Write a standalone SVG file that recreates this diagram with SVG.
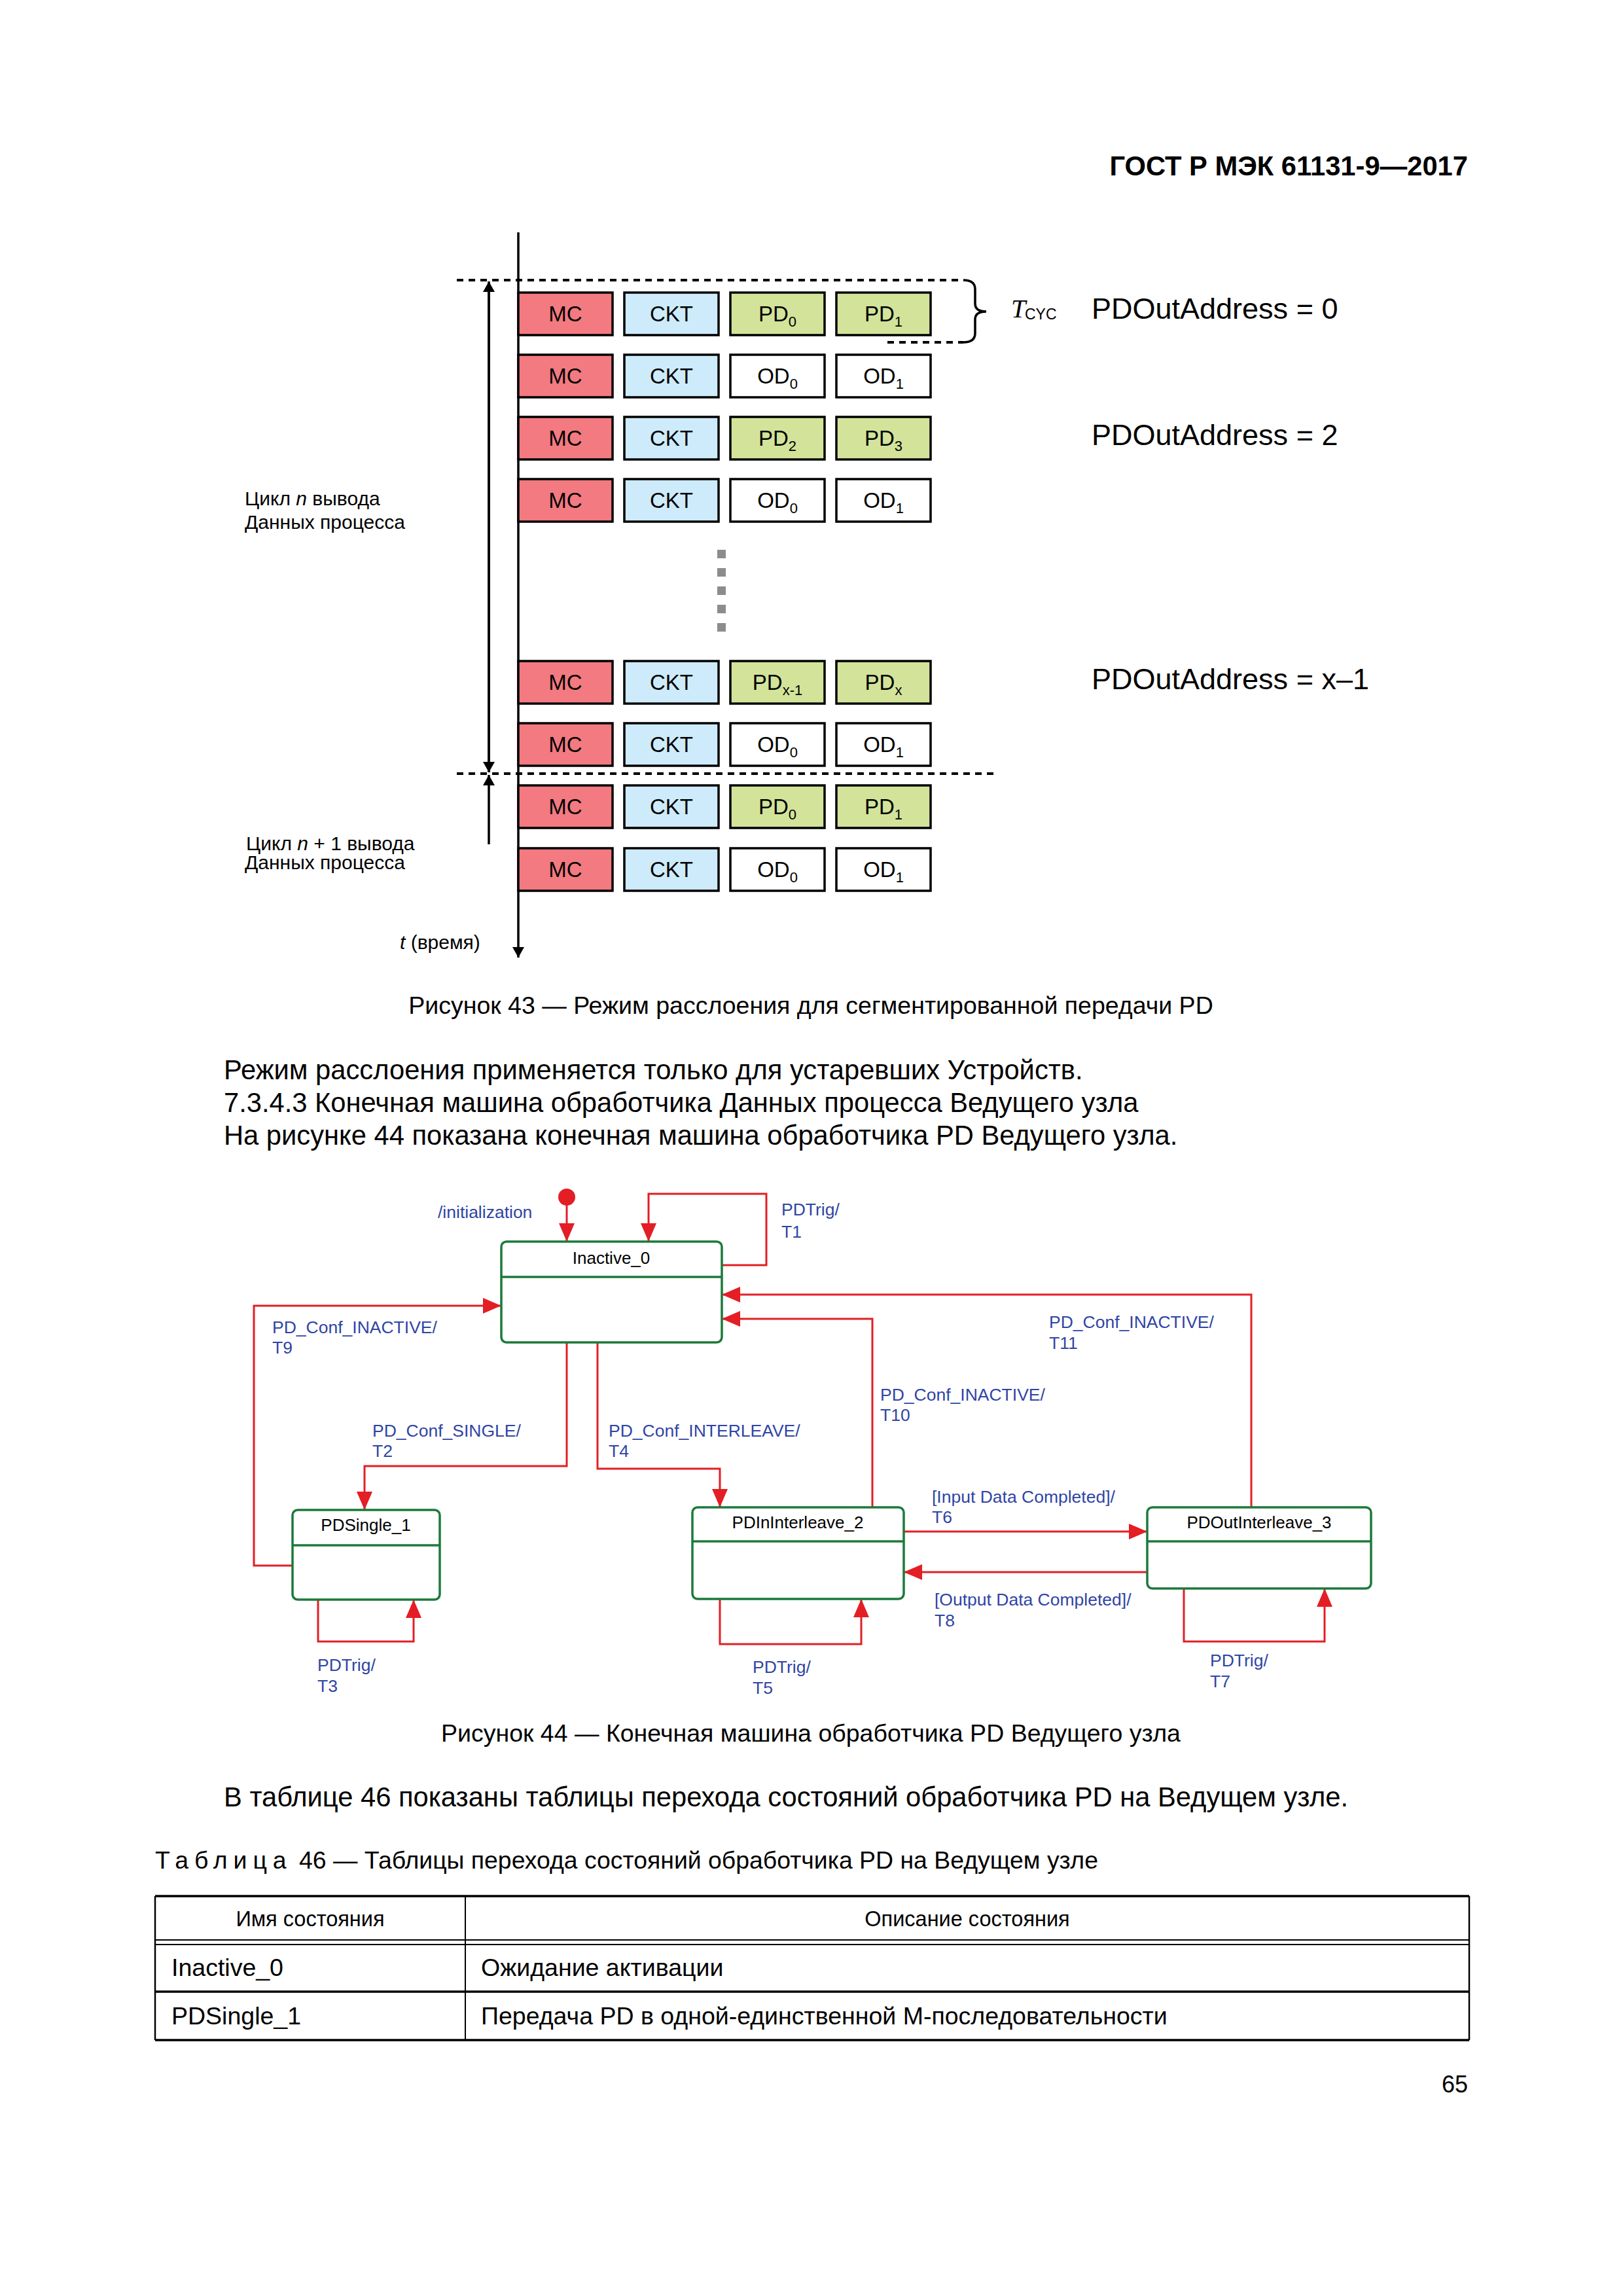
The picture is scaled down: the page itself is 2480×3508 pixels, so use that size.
<svg xmlns="http://www.w3.org/2000/svg" width="2480" height="3508" viewBox="0 0 2480 3508">
<style>
text{font-family:"Liberation Sans",Arial,sans-serif;fill:#000}
.box{stroke:#000;stroke-width:3.5}
.mc{fill:#F27A80}
.ckt{fill:#CDEBFA}
.pd{fill:#D3E39A}
.od{fill:#fff}
.bt{font-size:33px;text-anchor:middle}
.lbl{font-size:30px}
.addr{font-size:45px}
.dash{stroke:#000;stroke-width:4;stroke-dasharray:10 8;fill:none}
.st{fill:#fff;stroke:#1B7A3A;stroke-width:3.5}
.sep{stroke:#1B7A3A;stroke-width:3.5}
.sn{font-size:26px;text-anchor:middle}
.con{fill:none;stroke:#E31E24;stroke-width:3}
.tl{font-size:26.5px;fill:#2F45A5}
.body{font-size:41.7px}
.cap{font-size:37.5px;text-anchor:middle}
.tb{stroke:#000;fill:none}
</style>
<defs>
<marker id="ah" markerUnits="userSpaceOnUse" markerWidth="28" markerHeight="24" refX="28" refY="12" orient="auto">
<path d="M0,0 L28,12 L0,24 z" fill="#E31E24"/>
</marker>
<marker id="bk" markerUnits="userSpaceOnUse" markerWidth="16" markerHeight="18" refX="16" refY="9" orient="auto">
<path d="M0,0 L16,9 L0,18 z" fill="#000"/>
</marker>
</defs>

<text x="2243" y="268" font-size="41.7" font-weight="bold" text-anchor="end">ГОСТ Р МЭК 61131-9—2017</text>

<!-- Figure 43 -->
<g id="timeline">
<line x1="792" y1="355" x2="792" y2="1463" stroke="#000" stroke-width="3.5" marker-end="url(#bk)"/>
<path class="dash" d="M698,428 H1472"/>
<path class="dash" d="M1356,523 H1472"/>
<path d="M1472,428 Q1490,428 1490,442 L1490,464 Q1490,476 1507,476 Q1490,476 1490,488 L1490,509 Q1490,523 1472,523" fill="none" stroke="#000" stroke-width="3.5"/>
<path class="dash" d="M698,1182 H1520"/>
<line x1="747" y1="1180" x2="747" y2="430" stroke="#000" stroke-width="3.5" marker-end="url(#bk)"/>
<line x1="747" y1="432" x2="747" y2="1180" stroke="#000" stroke-width="3.5" marker-end="url(#bk)"/>
<line x1="747" y1="1290" x2="747" y2="1184" stroke="#000" stroke-width="3.5" marker-end="url(#bk)"/>
</g>

<g id="row1">
<rect class="box mc" x="792" y="447" width="144" height="65"/><text class="bt" x="864" y="491">MC</text>
<rect class="box ckt" x="954" y="447" width="144" height="65"/><text class="bt" x="1026" y="491">CKT</text>
<rect class="box pd" x="1116" y="447" width="144" height="65"/><text class="bt" x="1188" y="491">PD<tspan font-size="22" dy="8">0</tspan></text>
<rect class="box pd" x="1278" y="447" width="144" height="65"/><text class="bt" x="1350" y="491">PD<tspan font-size="22" dy="8">1</tspan></text>
</g>
<g id="row2">
<rect class="box mc" x="792" y="542" width="144" height="65"/><text class="bt" x="864" y="586">MC</text>
<rect class="box ckt" x="954" y="542" width="144" height="65"/><text class="bt" x="1026" y="586">CKT</text>
<rect class="box od" x="1116" y="542" width="144" height="65"/><text class="bt" x="1188" y="586">OD<tspan font-size="22" dy="8">0</tspan></text>
<rect class="box od" x="1278" y="542" width="144" height="65"/><text class="bt" x="1350" y="586">OD<tspan font-size="22" dy="8">1</tspan></text>
</g>
<g id="row3">
<rect class="box mc" x="792" y="637" width="144" height="65"/><text class="bt" x="864" y="681">MC</text>
<rect class="box ckt" x="954" y="637" width="144" height="65"/><text class="bt" x="1026" y="681">CKT</text>
<rect class="box pd" x="1116" y="637" width="144" height="65"/><text class="bt" x="1188" y="681">PD<tspan font-size="22" dy="8">2</tspan></text>
<rect class="box pd" x="1278" y="637" width="144" height="65"/><text class="bt" x="1350" y="681">PD<tspan font-size="22" dy="8">3</tspan></text>
</g>
<g id="row4">
<rect class="box mc" x="792" y="732" width="144" height="65"/><text class="bt" x="864" y="776">MC</text>
<rect class="box ckt" x="954" y="732" width="144" height="65"/><text class="bt" x="1026" y="776">CKT</text>
<rect class="box od" x="1116" y="732" width="144" height="65"/><text class="bt" x="1188" y="776">OD<tspan font-size="22" dy="8">0</tspan></text>
<rect class="box od" x="1278" y="732" width="144" height="65"/><text class="bt" x="1350" y="776">OD<tspan font-size="22" dy="8">1</tspan></text>
</g>
<g id="dots" fill="#8C8C8C">
<rect x="1096" y="840" width="13" height="13"/>
<rect x="1096" y="868" width="13" height="13"/>
<rect x="1096" y="896" width="13" height="13"/>
<rect x="1096" y="924" width="13" height="13"/>
<rect x="1096" y="952" width="13" height="13"/>
</g>
<g id="row5">
<rect class="box mc" x="792" y="1010" width="144" height="65"/><text class="bt" x="864" y="1054">MC</text>
<rect class="box ckt" x="954" y="1010" width="144" height="65"/><text class="bt" x="1026" y="1054">CKT</text>
<rect class="box pd" x="1116" y="1010" width="144" height="65"/><text class="bt" x="1188" y="1054">PD<tspan font-size="22" dy="8">x-1</tspan></text>
<rect class="box pd" x="1278" y="1010" width="144" height="65"/><text class="bt" x="1350" y="1054">PD<tspan font-size="22" dy="8">x</tspan></text>
</g>
<g id="row6">
<rect class="box mc" x="792" y="1105" width="144" height="65"/><text class="bt" x="864" y="1149">MC</text>
<rect class="box ckt" x="954" y="1105" width="144" height="65"/><text class="bt" x="1026" y="1149">CKT</text>
<rect class="box od" x="1116" y="1105" width="144" height="65"/><text class="bt" x="1188" y="1149">OD<tspan font-size="22" dy="8">0</tspan></text>
<rect class="box od" x="1278" y="1105" width="144" height="65"/><text class="bt" x="1350" y="1149">OD<tspan font-size="22" dy="8">1</tspan></text>
</g>
<g id="row7">
<rect class="box mc" x="792" y="1200" width="144" height="65"/><text class="bt" x="864" y="1244">MC</text>
<rect class="box ckt" x="954" y="1200" width="144" height="65"/><text class="bt" x="1026" y="1244">CKT</text>
<rect class="box pd" x="1116" y="1200" width="144" height="65"/><text class="bt" x="1188" y="1244">PD<tspan font-size="22" dy="8">0</tspan></text>
<rect class="box pd" x="1278" y="1200" width="144" height="65"/><text class="bt" x="1350" y="1244">PD<tspan font-size="22" dy="8">1</tspan></text>
</g>
<g id="row8">
<rect class="box mc" x="792" y="1296" width="144" height="65"/><text class="bt" x="864" y="1340">MC</text>
<rect class="box ckt" x="954" y="1296" width="144" height="65"/><text class="bt" x="1026" y="1340">CKT</text>
<rect class="box od" x="1116" y="1296" width="144" height="65"/><text class="bt" x="1188" y="1340">OD<tspan font-size="22" dy="8">0</tspan></text>
<rect class="box od" x="1278" y="1296" width="144" height="65"/><text class="bt" x="1350" y="1340">OD<tspan font-size="22" dy="8">1</tspan></text>
</g>

<g id="labels43">
<text x="1545" y="485" font-style="italic" font-size="40" style="font-family:'Liberation Serif',serif">T</text>
<text x="1566" y="488" font-size="23">CYC</text>
<text class="addr" x="1668" y="487">PDOutAddress = 0</text>
<text class="addr" x="1668" y="680">PDOutAddress = 2</text>
<text class="addr" x="1668" y="1053">PDOutAddress = x–1</text>
<text class="lbl" x="374" y="772">Цикл <tspan font-style="italic">n</tspan> вывода</text>
<text class="lbl" x="374" y="808">Данных процесса</text>
<text class="lbl" x="376" y="1299">Цикл <tspan font-style="italic">n</tspan> + 1 вывода</text>
<text class="lbl" x="374" y="1328">Данных процесса</text>
<text class="lbl" x="611" y="1450"><tspan font-style="italic">t</tspan> (время)</text>
</g>

<text class="cap" x="1239" y="1549">Рисунок 43 — Режим расслоения для сегментированной передачи PD</text>

<text class="body" x="342" y="1649">Режим расслоения применяется только для устаревших Устройств.</text>
<text class="body" x="342" y="1699">7.3.4.3 Конечная машина обработчика Данных процесса Ведущего узла</text>
<text class="body" x="342" y="1749">На рисунке 44 показана конечная машина обработчика PD Ведущего узла.</text>

<!-- Figure 44 -->
<g id="connectors">
<circle cx="866" cy="1829" r="13" fill="#E31E24"/>
<path class="con" d="M866,1840 V1897" marker-end="url(#ah)"/>
<path class="con" d="M1103,1933 H1171 V1824 H991 V1897" marker-end="url(#ah)"/>
<path class="con" d="M447,2392 H388 V1995 H766" marker-end="url(#ah)"/>
<path class="con" d="M866,2051 V2240 H557 V2307" marker-end="url(#ah)"/>
<path class="con" d="M913,2051 V2244 H1100 V2303" marker-end="url(#ah)"/>
<path class="con" d="M1333,2303 V2015 H1103" marker-end="url(#ah)"/>
<path class="con" d="M1912,2303 V1978 H1103" marker-end="url(#ah)"/>
<path class="con" d="M1381,2340 H1753" marker-end="url(#ah)"/>
<path class="con" d="M1753,2402 H1381" marker-end="url(#ah)"/>
<path class="con" d="M486,2444 V2508 H632 V2444" marker-end="url(#ah)"/>
<path class="con" d="M1100,2443 V2512 H1316 V2443" marker-end="url(#ah)"/>
<path class="con" d="M1809,2427 V2508 H2024 V2427" marker-end="url(#ah)"/>
</g>
<g id="Inactive_0">
<rect class="st" x="766" y="1897" width="337" height="154" rx="8"/>
<line class="sep" x1="766" y1="1951" x2="1103" y2="1951"/>
<text class="sn" x="934" y="1931">Inactive_0</text>
</g>
<g id="PDSingle_1">
<rect class="st" x="447" y="2307" width="225" height="137" rx="8"/>
<line class="sep" x1="447" y1="2361" x2="672" y2="2361"/>
<text class="sn" x="559" y="2339">PDSingle_1</text>
</g>
<g id="PDInInterleave_2">
<rect class="st" x="1058" y="2303" width="323" height="140" rx="8"/>
<line class="sep" x1="1058" y1="2355" x2="1381" y2="2355"/>
<text class="sn" x="1219" y="2335">PDInInterleave_2</text>
</g>
<g id="PDOutInterleave_3">
<rect class="st" x="1753" y="2303" width="342" height="124" rx="8"/>
<line class="sep" x1="1753" y1="2355" x2="2095" y2="2355"/>
<text class="sn" x="1924" y="2335">PDOutInterleave_3</text>
</g>
<g id="transition-labels">
<text class="tl" x="669" y="1861">/initialization</text>
<text class="tl" x="1194" y="1857">PDTrig/</text><text class="tl" x="1194" y="1891">T1</text>
<text class="tl" x="416" y="2037">PD_Conf_INACTIVE/</text><text class="tl" x="416" y="2068">T9</text>
<text class="tl" x="569" y="2195">PD_Conf_SINGLE/</text><text class="tl" x="569" y="2226">T2</text>
<text class="tl" x="930" y="2195">PD_Conf_INTERLEAVE/</text><text class="tl" x="930" y="2226">T4</text>
<text class="tl" x="1345" y="2140">PD_Conf_INACTIVE/</text><text class="tl" x="1345" y="2171">T10</text>
<text class="tl" x="1603" y="2029">PD_Conf_INACTIVE/</text><text class="tl" x="1603" y="2061">T11</text>
<text class="tl" x="1424" y="2296">[Input Data Completed]/</text><text class="tl" x="1424" y="2327">T6</text>
<text class="tl" x="1428" y="2453">[Output Data Completed]/</text><text class="tl" x="1428" y="2485">T8</text>
<text class="tl" x="485" y="2553">PDTrig/</text><text class="tl" x="485" y="2585">T3</text>
<text class="tl" x="1150" y="2556">PDTrig/</text><text class="tl" x="1150" y="2588">T5</text>
<text class="tl" x="1849" y="2546">PDTrig/</text><text class="tl" x="1849" y="2578">T7</text>
</g>

<text class="cap" x="1239" y="2661">Рисунок 44 — Конечная машина обработчика PD Ведущего узла</text>

<text class="body" x="342" y="2760">В таблице 46 показаны таблицы перехода состояний обработчика PD на Ведущем узле.</text>

<text x="237" y="2855" font-size="37.4"><tspan letter-spacing="9">Таблица</tspan>  46 — Таблицы перехода состояний обработчика PD на Ведущем узле</text>

<g id="table">
<line class="tb" x1="237" y1="2897" x2="2245" y2="2897" stroke-width="3.5"/>
<line class="tb" x1="237" y1="3117" x2="2245" y2="3117" stroke-width="3.5"/>
<line class="tb" x1="237" y1="2897" x2="237" y2="3117" stroke-width="2.5"/>
<line class="tb" x1="2245" y1="2897" x2="2245" y2="3117" stroke-width="2.5"/>
<line class="tb" x1="711" y1="2897" x2="711" y2="3117" stroke-width="2"/>
<line class="tb" x1="237" y1="2964" x2="2245" y2="2964" stroke-width="2"/>
<line class="tb" x1="237" y1="2971" x2="2245" y2="2971" stroke-width="2"/>
<line class="tb" x1="237" y1="3043" x2="2245" y2="3043" stroke-width="3.5"/>
<text x="474" y="2943" font-size="32.5" text-anchor="middle">Имя состояния</text>
<text x="1478" y="2943" font-size="32.5" text-anchor="middle">Описание состояния</text>
<text x="262" y="3019" font-size="37.5">Inactive_0</text>
<text x="735" y="3019" font-size="37.5">Ожидание активации</text>
<text x="262" y="3093" font-size="37.5">PDSingle_1</text>
<text x="735" y="3093" font-size="37.5">Передача PD в одной-единственной M-последовательности</text>
</g>

<text x="2243" y="3197" font-size="36" text-anchor="end">65</text>
</svg>
